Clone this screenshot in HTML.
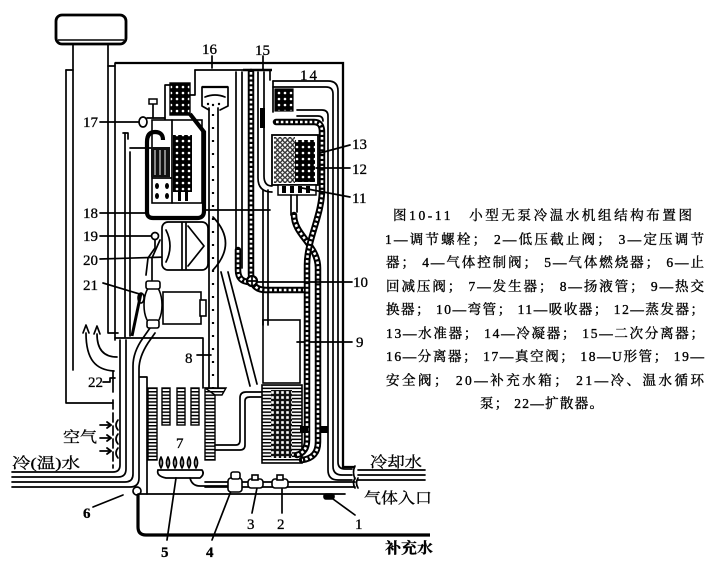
<!DOCTYPE html>
<html><head><meta charset="utf-8">
<style>
html,body{margin:0;padding:0;background:#fff;}
svg{display:block;}
.l{fill:none;stroke:#000;stroke-width:1.7;stroke-linecap:round;stroke-linejoin:round}
.t{font-family:"Liberation Serif","Noto Serif CJK SC",serif;font-size:15px;fill:#000;stroke:#000;stroke-width:0.3}
.c{font-family:"Liberation Serif","Noto Serif CJK SC",serif;font-size:13.5px;fill:#000;stroke:#000;stroke-width:0.35}
.ck{fill:none;stroke:#000;stroke-width:6.5;stroke-linecap:round;stroke-linejoin:round}
.cw{fill:none;stroke:#fff;stroke-width:2.6;stroke-dasharray:2.6 2.2}
</style></head><body>
<svg width="719" height="565" viewBox="0 0 719 565" xmlns="http://www.w3.org/2000/svg">
<defs>
<pattern id="hh" width="6" height="3.4" patternUnits="userSpaceOnUse"><rect width="6" height="3.4" fill="#fff"/><rect width="6" height="1.5" fill="#000"/></pattern>
<pattern id="dots" width="5" height="5" patternUnits="userSpaceOnUse"><rect width="5" height="5" fill="#111"/><rect x="1.2" y="1.2" width="2.6" height="2.6" fill="#fff"/></pattern>
<pattern id="rings" width="6" height="6" patternUnits="userSpaceOnUse"><rect width="6" height="6" fill="#000"/><circle cx="3" cy="3" r="1.3" fill="#fff"/></pattern>
<pattern id="grey" width="5" height="5" patternUnits="userSpaceOnUse"><rect width="5" height="5" fill="#fff"/><circle cx="2.5" cy="2.5" r="1.8" fill="none" stroke="#000" stroke-width="1.1"/></pattern>
</defs>
<rect width="719" height="565" fill="#fff"/>

<!-- chimney -->
<rect x="56" y="15" width="70" height="29" rx="6" fill="#fff" stroke="#000" stroke-width="2.8"/>
<line x1="58" y1="40" x2="124" y2="40" stroke="#000" stroke-width="1.4"/>
<g class="l">
<path d="M73,44 V370"/>
<path d="M108,44 V333 H118"/>
<path d="M66,70 H73"/>
<path d="M66,70 V403 H113"/>
<path d="M108,66 H115"/>
<path d="M115,63 V340"/>
<path d="M113,372 V392"/>
<path d="M103,382 H110 V378 H115"/>
<path d="M113,400 V468" stroke-dasharray="9 4"/>
<path d="M118,420 q-4,5 0,10 M118,434 q-4,5 0,10 M118,448 q-4,5 0,10"/>
<path d="M100,425 H111 M100,438 H111 M100,451 H111"/>
<path d="M107,422 l4,3 l-4,3 M107,435 l4,3 l-4,3 M107,448 l4,3 l-4,3" stroke-width="1.8"/>
<path d="M114,371 C96,370 86,360 86,333"/>
<path d="M117,357 C104,357 97,350 97,334"/>
<path d="M83,333 l3,-8 l3,8 M94,334 l3,-8 l3,8"/>

<path d="M125,133 V337 M130,152 V336"/>
<path d="M123,133 H128 V139"/>
<path d="M130,148 H152"/>
<path d="M115,338 H203 V388"/>

<path d="M12,472 H113 Q120,472 120,465 V340"/>
<path d="M12,477 H118 Q126,477 126,469 V340"/>
<path d="M12,482 H125 Q133,482 133,474 V366 Q133,352 143,338 L150,328"/>
<path d="M12,487 H130 Q139,487 139,478 V369 Q139,357 148,343 L155,333"/>
<circle cx="137" cy="491" r="4"/>
<path d="M93,507 L123,495"/>
<path d="M140,377 H147 V494"/>
<path d="M138,494 H345"/>
</g>
<path d="M115,63 H343 V467 H355" fill="none" stroke="#000" stroke-width="2.3"/>
<path d="M138,494 V527 Q138,535 146,535 H430" fill="none" stroke="#000" stroke-width="3.2"/>

<!-- generator fins -->
<g stroke="#000" stroke-width="1.4">
<rect x="148" y="388" width="9" height="72" fill="url(#hh)"/>
<rect x="162" y="388" width="8" height="37" fill="url(#hh)"/>
<rect x="177" y="388" width="8" height="37" fill="url(#hh)"/>
<rect x="191" y="388" width="8" height="37" fill="url(#hh)"/>
<rect x="205" y="388" width="10" height="72" fill="url(#hh)"/>
<path d="M205,388 H226 L222,395 H215 Z" fill="url(#hh)"/>
</g>
<!-- burner -->
<g class="l">
<path d="M161,468 q-3,-5 0,-11 q3,6 0,11 M168,468 q-3,-5 0,-11 q3,6 0,11 M175,468 q-3,-5 0,-11 q3,6 0,11 M182,468 q-3,-5 0,-11 q3,6 0,11 M189,468 q-3,-5 0,-11 q3,6 0,11 M196,468 q-3,-5 0,-11 q3,6 0,11"/>
<path d="M158,470 H202 Q205,474 200,478 H190 Q192,486 200,486 H228"/>
<path d="M158,470 Q156,476 166,478 H190"/>
<path d="M205,482 H355 M205,487 H228 M242,487 H355"/>
<path d="M355,478 q-3,5 0,10 M358,478 q-3,5 0,10"/>
<path d="M358,470 H425 M358,475 H425 M358,480 H425"/>
<path d="M355,466 q-3,6 0,13"/>
<path d="M167,540 L176,478 M212,540 L231,491 M252,513 L257,488 M282,513 L282,489 M355,515 L333,499"/>
</g>
<g fill="#fff" stroke="#000" stroke-width="1.6">
<rect x="228" y="478" width="14" height="14" rx="3"/>
<rect x="231" y="472" width="9" height="7" rx="2"/>
<rect x="248" y="479" width="15" height="9" rx="3"/>
<rect x="252" y="475" width="6" height="5"/>
<rect x="272" y="479" width="16" height="9" rx="3"/>
<rect x="277" y="475" width="6" height="5"/>
<rect x="324" y="494" width="10" height="5" rx="2" fill="#000"/>
</g>

<!-- riser 8 -->
<g class="l">
<path d="M209,108 V388 M218,108 V388"/>
<path d="M197,355 H211"/>
</g>
<line x1="213" y1="114" x2="213" y2="388" stroke="#000" stroke-width="2.2" stroke-dasharray="2 11"/>
<g class="l">
<path d="M221,272 L250,386 M228,272 L257,384"/>
<path d="M236,72 V272 M242,72 V268"/>
<path d="M215,445 H236 Q240,445 240,440 V398 Q240,392 246,392 H262"/>
<path d="M215,450 H240 Q245,450 245,445 V401 Q245,397 250,397 H262"/>
<path d="M213,217 Q238,243 213,270"/>
<path d="M205,210 H270"/>
</g>

<!-- heat exchanger 9 -->
<rect x="263" y="320" width="37" height="63" fill="#fff" stroke="#000" stroke-width="1.6"/>
<rect x="262" y="385" width="40" height="78" fill="url(#hh)" stroke="#000" stroke-width="1.6"/>
<rect x="271" y="390" width="21" height="68" fill="url(#dots)"/>
<g class="l">
<path d="M263,190 V325 M268,190 V325"/>
<path d="M297,342 H352"/>
</g>

<!-- separator 15 -->
<path d="M243,70 H272" stroke="#000" stroke-width="2.6"/>
<g class="l">
<path d="M258,72 V178 Q258,192 272,192"/>
<path d="M264,72 V176 Q264,186 272,186"/>
<path d="M270,70 V80"/>
<path d="M263,56 V69 M212,56 V68"/>
</g>
<rect x="260" y="108" width="5" height="20" fill="#000"/>

<!-- right pipes -->
<g class="l">
<path d="M273,81 H328 Q338,81 338,91 V462 Q338,469 345,469 H352"/>
<path d="M273,87 H326 Q333,87 333,94 V466 Q333,475 342,475 H352"/>
<path d="M297,110 H322 Q328,110 328,116 V470 Q328,480 338,480 H352"/>
<path d="M297,116 H318 Q323,116 323,121"/>
<path d="M273,81 V112"/>
</g>

<!-- chains -->
<path class="ck" d="M251,72 V274 Q251,290 266,290 H306"/>
<path class="cw" d="M251,72 V274 Q251,290 266,290 H306"/>
<path class="ck" d="M238,250 V270 Q238,282 250,282"/>
<path class="cw" d="M238,250 V270 Q238,282 250,282"/>
<path class="ck" d="M294,215 C294,235 318,245 318,268 V442 Q318,458 302,460"/>
<path class="cw" d="M294,215 C294,235 318,245 318,268 V442 Q318,458 302,460"/>
<path class="ck" d="M276,122 H314 Q322,122 322,132 V190 C322,215 307,240 307,265 V440 Q307,452 297,455"/>
<path class="cw" d="M276,122 H314 Q322,122 322,132 V190 C322,215 307,240 307,265 V440 Q307,452 297,455"/>
<circle cx="252" cy="281" r="5" fill="#fff" stroke="#000" stroke-width="2.2"/>
<path d="M247,281 H257 M252,276 V286" stroke="#000" stroke-width="1.7"/>
<rect x="300" y="426" width="8" height="7" fill="#000"/>
<rect x="320" y="426" width="8" height="7" fill="#000"/>

<!-- absorber / evaporator -->
<rect x="272" y="135" width="46" height="50" fill="#fff" stroke="#000" stroke-width="1.8"/>
<rect x="274" y="137" width="21" height="46" fill="url(#grey)"/>
<rect x="295" y="140" width="20" height="42" fill="url(#rings)"/>
<rect x="278" y="185" width="38" height="10" fill="#fff" stroke="#000" stroke-width="1.5"/>
<g fill="#000"><rect x="282" y="186" width="4" height="7"/><rect x="290" y="186" width="4" height="7"/><rect x="298" y="186" width="4" height="7"/><rect x="306" y="186" width="4" height="7"/></g>
<g class="l"><path d="M291,195 V215 M297,195 V212"/></g>
<rect x="275" y="89" width="18" height="22" fill="url(#rings)" stroke="#000" stroke-width="1.2"/>

<!-- separator 16 -->
<g class="l">
<path d="M195,70 H243"/>
<path d="M195,70 V95 H188"/>
<path d="M202,87 V106 L209,110 M228,87 V106 L220,110"/>
<path d="M205,97 Q215,93 225,97"/>
</g>
<path d="M202,87 H228" stroke="#000" stroke-width="2.2"/>
<g fill="#000"><circle cx="208" cy="104" r="1.2"/><circle cx="213" cy="105" r="1.2"/><circle cx="219" cy="104" r="1.2"/></g>
<!-- generator -->
<rect x="170" y="83" width="20" height="32" fill="url(#rings)" stroke="#000" stroke-width="1.4"/>
<path d="M165,85 H170 M165,85 V120" class="l"/>
<rect x="152" y="120" width="50" height="83" fill="#fff" stroke="#000" stroke-width="1.6"/>
<rect x="173" y="135" width="19" height="57" fill="url(#rings)"/>
<rect x="151" y="147" width="19" height="30" fill="#111"/>
<g stroke="#fff" stroke-width="1"><line x1="155" y1="150" x2="155" y2="175"/><line x1="160" y1="150" x2="160" y2="175"/><line x1="165" y1="150" x2="165" y2="175"/></g>
<g class="l"><path d="M152,178 H172 M172,120 V203"/></g>
<g fill="#000"><ellipse cx="157" cy="186" rx="2" ry="3"/><ellipse cx="167" cy="186" rx="2" ry="3"/><ellipse cx="157" cy="196" rx="2" ry="3"/><ellipse cx="167" cy="196" rx="2" ry="3"/><rect x="178" y="192" width="3" height="9"/><rect x="185" y="192" width="3" height="9"/></g>
<path d="M163,140 Q163,132 155,132 Q147,132 147,142 V212 Q147,218 153,218 H197 Q204,218 204,211 V132 L190,114" fill="none" stroke="#000" stroke-width="4.2"/>
<g class="l">
<ellipse cx="143" cy="122" rx="4" ry="5"/>
<path d="M153,104 V118"/>
<path d="M147,118 H165"/>
<path d="M100,122 H139"/>
<path d="M100,213 H146"/>
<path d="M100,236 H151"/>
<path d="M100,259 L167,257"/>
<path d="M103,283 L153,298"/>
</g>
<rect x="149" y="99" width="8" height="5" fill="#fff" stroke="#000" stroke-width="1.5"/>
<!-- tank 20 -->
<g class="l">
<rect x="162" y="222" width="46" height="48" rx="6" fill="#fff"/>
<path d="M182,223 V269 M186,223 V269"/>
<path d="M188,226 L204,246 L188,266"/>
<path d="M166,230 Q174,246 166,262"/>
<circle cx="155" cy="236" r="3.5"/>
<path d="M155,240 V248 L148,258 L146,275"/>
<path d="M160,240 L152,258 L152,280"/>
</g>
<!-- pump 21 -->
<g stroke="#000" stroke-width="1.6" fill="#fff">
<rect x="163" y="292" width="38" height="32"/>
<rect x="200" y="300" width="6" height="16"/>
<ellipse cx="153" cy="305" rx="9" ry="20"/>
<rect x="146" y="281" width="14" height="8" rx="2"/>
<rect x="147" y="320" width="12" height="8" rx="2"/>
<ellipse cx="141" cy="298" rx="3" ry="5"/>
</g>
<path d="M132,336 L141,293" stroke="#000" stroke-width="3" fill="none"/>

<g class="l">
<path d="M320,153 L350,145 M316,168 H350 M302,188 L350,197 M258,282 H352"/>
</g>

<!-- labels -->
<g class="t">
<text x="202" y="54">16</text>
<text x="255" y="55">15</text>
<text x="300" y="80" letter-spacing="2">14</text>
<text x="83" y="127">17</text>
<text x="83" y="218">18</text>
<text x="83" y="241">19</text>
<text x="83" y="265">20</text>
<text x="83" y="290">21</text>
<text x="352" y="149">13</text>
<text x="352" y="174">12</text>
<text x="352" y="203">11</text>
<text x="353" y="287">10</text>
<text x="356" y="347">9</text>
<text x="185" y="363">8</text>
<text x="88" y="387">22</text>
<text x="176" y="448">7</text>
<text x="83" y="518" font-weight="bold">6</text>
<text x="161" y="557" font-weight="bold">5</text>
<text x="206" y="557" font-weight="bold">4</text>
<text x="247" y="529">3</text>
<text x="277" y="529">2</text>
<text x="355" y="529">1</text>
<text x="63" y="442" textLength="34" lengthAdjust="spacingAndGlyphs">空气</text>
<text x="12" y="468" textLength="68" lengthAdjust="spacingAndGlyphs">冷(温)水</text>
<text x="370" y="467" textLength="52" lengthAdjust="spacingAndGlyphs">冷却水</text>
<text x="364" y="503" textLength="68" lengthAdjust="spacingAndGlyphs">气体入口</text>
<text x="385" y="553" textLength="48" lengthAdjust="spacingAndGlyphs" font-weight="bold">补充水</text>
</g>

<!-- caption -->
<g class="c">
<text x="393" y="220" textLength="299" lengthAdjust="spacing">图10-11　小型无泵冷温水机组结构布置图</text>
<text x="385" y="244" textLength="319" lengthAdjust="spacing">1—调节螺栓； 2—低压截止阀； 3—定压调节</text>
<text x="386" y="267" textLength="318" lengthAdjust="spacing">器； 4—气体控制阀； 5—气体燃烧器； 6—止</text>
<text x="386" y="291" textLength="318" lengthAdjust="spacing">回减压阀； 7—发生器； 8—扬液管； 9—热交</text>
<text x="386" y="314" textLength="318" lengthAdjust="spacing">换器； 10—弯管； 11—吸收器； 12—蒸发器；</text>
<text x="386" y="338" textLength="318" lengthAdjust="spacing">13—水准器； 14—冷凝器； 15—二次分离器；</text>
<text x="386" y="361" textLength="318" lengthAdjust="spacing">16—分离器； 17—真空阀； 18—U形管； 19—</text>
<text x="386" y="385" textLength="318" lengthAdjust="spacing">安全阀； 20—补充水箱； 21—冷、温水循环</text>
<text x="480" y="408" textLength="123" lengthAdjust="spacing">泵； 22—扩散器。</text>
</g>
</svg>
</body></html>
